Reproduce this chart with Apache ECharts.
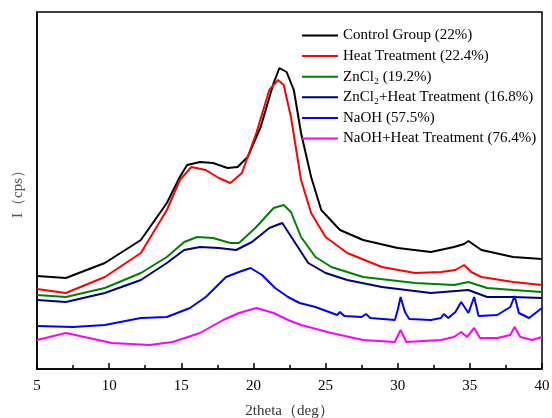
<!DOCTYPE html>
<html>
<head>
<meta charset="utf-8">
<script src="https://cdn.jsdelivr.net/npm/echarts@6/dist/echarts.min.js"></script>
<style>
  html, body { margin: 0; padding: 0; background: #fff; }
  #chart { width: 552px; height: 418px; }
</style>
</head>
<body>
<div id="chart"></div>
<script>
"use strict";

// 图例名称
let names = [
  "Control Group (22%)",
  "Heat Treatment (22.4%)",
  "ZnCl₂ (19.2%)",
  "ZnCl₂+Heat Treatment (16.8%)",
  "NaOH (57.5%)",
  "NaOH+Heat Treatment (76.4%)"
];
let colors = ['#000000', '#ff0000', '#008000', '#000080', '#0000ff', '#ff00ff'];

// X 轴刻度标签
let xTicks = [5, 10, 15, 20, 25, 30, 35, 40];

// 各曲线 (2theta, 强度) 读数
let ctrlX = [5, 7, 9.7, 12.2, 14, 14.9, 15.4, 16.3, 17.2, 18.2, 18.9, 19.6, 20.5, 21.4, 21.8, 22.3, 22.8, 23.3, 24, 24.7, 26, 27.6, 30, 32.3, 33.9, 34.6, 34.9, 35.3, 35.8, 38, 40];
let ctrlY = [93, 91, 106, 129, 166, 192, 204, 207, 206, 201, 202, 212, 242, 286, 301, 297, 279, 236, 192, 159, 139, 129, 121, 117, 122, 125, 128, 124, 119, 112, 110];

let heatX = [5, 7, 9.7, 12.2, 14, 14.9, 15.7, 16.7, 17.6, 18.4, 19.2, 20.2, 21.1, 21.7, 22.1, 22.6, 23.3, 24, 25, 26.5, 28.9, 31.2, 33, 34, 34.6, 35.1, 35.8, 38, 40];
let heatY = [80, 76, 92, 116, 159, 189, 202, 199, 191, 186, 196, 236, 279, 289, 284, 252, 189, 156, 132, 116, 102, 96, 97, 99, 104, 97, 92, 87, 84];

let zncX = [5, 7, 9.7, 12.2, 14, 15.2, 16.1, 17.2, 18.4, 19, 20.2, 21.4, 22.1, 22.6, 23.3, 24.3, 25.4, 27.6, 31.2, 33.9, 34.9, 36.2, 38, 40];
let zncY = [74, 72, 81, 96, 112, 127, 132, 131, 126, 126, 142, 161, 164, 157, 132, 112, 102, 92, 86, 84, 87, 81, 79, 77];

let zncHeatX = [5, 7, 9.7, 12.2, 14, 15.2, 16.3, 17.6, 18.8, 19.9, 21.1, 22, 22.9, 23.8, 25, 26.5, 28.9, 32.3, 34.9, 36.2, 38, 40];
let zncHeatY = [69, 67, 76, 89, 106, 119, 122, 121, 119, 127, 141, 146, 126, 106, 96, 89, 82, 76, 79, 72, 72, 71];

let naohX = [5, 7.5, 9.7, 12.2, 14, 15.6, 16.7, 18.1, 19, 19.8, 20.6, 21.5, 22.4, 23.2, 24.3, 25.8, 26, 26.3, 27.5, 27.8, 28.1, 29.8, 30, 30.2, 30.5, 30.8, 32.3, 33, 33.2, 33.5, 34, 34.4, 34.9, 35.3, 35.6, 36.9, 37.8, 38.1, 38.4, 39.1, 40];
let naohY = [43, 42, 44, 51, 52, 61, 72, 92, 97, 101, 94, 81, 72, 66, 62, 54, 57, 53, 52, 55, 51, 49, 59, 72, 57, 50, 49, 51, 55, 51, 57, 67, 56, 72, 53, 54, 62, 73, 56, 51, 61];

let naohHeatX = [5, 7, 8.6, 10.2, 12.8, 14.4, 16.3, 17.9, 19, 20.2, 21.4, 22.4, 23.3, 25.4, 27.6, 29.8, 30.2, 30.6, 33, 33.9, 34.4, 34.8, 35.3, 35.7, 36.9, 37.8, 38.1, 38.5, 39.3, 40];
let naohHeatY = [29, 36, 31, 26, 24, 27, 36, 49, 56, 61, 56, 49, 44, 36, 29, 27, 39, 27, 29, 32, 37, 32, 41, 31, 31, 34, 42, 32, 29, 32];

let allX = [ctrlX, heatX, zncX, zncHeatX, naohX, naohHeatX];
let allY = [ctrlY, heatY, zncY, zncHeatY, naohY, naohHeatY];

let serif = "'Liberation Serif', 'Times New Roman', serif";

let myChart = echarts.init(document.getElementById('chart'));

let series = names.map(function (name, i) {
  return {
    name: name,
    type: 'line',
    symbol: 'none',
    smooth: false,
    data: allX[i].map(function (x, j) { return [x, allY[i][j]]; }),
    lineStyle: { color: colors[i], width: 2 },
    itemStyle: { color: colors[i] },
  };
});

let option = {
  animation: false,
  grid: {
    left: 37,
    right: 10,
    top: 12,
    bottom: 49,
    containLabel: false,
    outerBoundsMode: 'none',
    show: true,
    borderColor: '#000',
    borderWidth: 1.5,
  },
  legend: {
    left: 297,
    top: 23,
    orient: 'vertical',
    icon: 'rect',
    itemWidth: 36,
    itemHeight: 2,
    itemGap: 5.6,
    data: names,
    textStyle: { fontFamily: serif, fontSize: 15, lineHeight: 15, color: '#000' },
  },
  xAxis: {
    type: 'value',
    min: 5,
    max: 40,
    interval: 5,
    name: '2theta（deg）',
    nameLocation: 'middle',
    nameGap: 35,
    nameTextStyle: { fontFamily: serif, fontSize: 15, color: '#333' },
    axisLine: { show: true, onZero: false, lineStyle: { color: '#000', width: 1.5 } },
    axisTick: { show: true, inside: true, length: 6, lineStyle: { color: '#000', width: 1.5 } },
    minorTick: { show: true, splitNumber: 2, length: 4, lineStyle: { color: '#000', width: 1.5 } },
    axisLabel: {
      fontFamily: serif, fontSize: 15, color: '#000', margin: 10,
      formatter: function (v) { return xTicks.indexOf(v) >= 0 ? String(v) : ''; },
    },
    splitLine: { show: false },
  },
  yAxis: {
    type: 'value',
    min: 0,
    max: 357,
    name: 'I（cps）',
    nameLocation: 'middle',
    nameGap: 11,
    nameTextStyle: { fontFamily: serif, fontSize: 15, color: '#555' },
    axisLine: { show: true, lineStyle: { color: '#000', width: 1.5 } },
    axisTick: { show: false },
    axisLabel: { show: false },
    splitLine: { show: false },
  },
  series: series,
};

myChart.setOption(option);
</script>
</body>
</html>
